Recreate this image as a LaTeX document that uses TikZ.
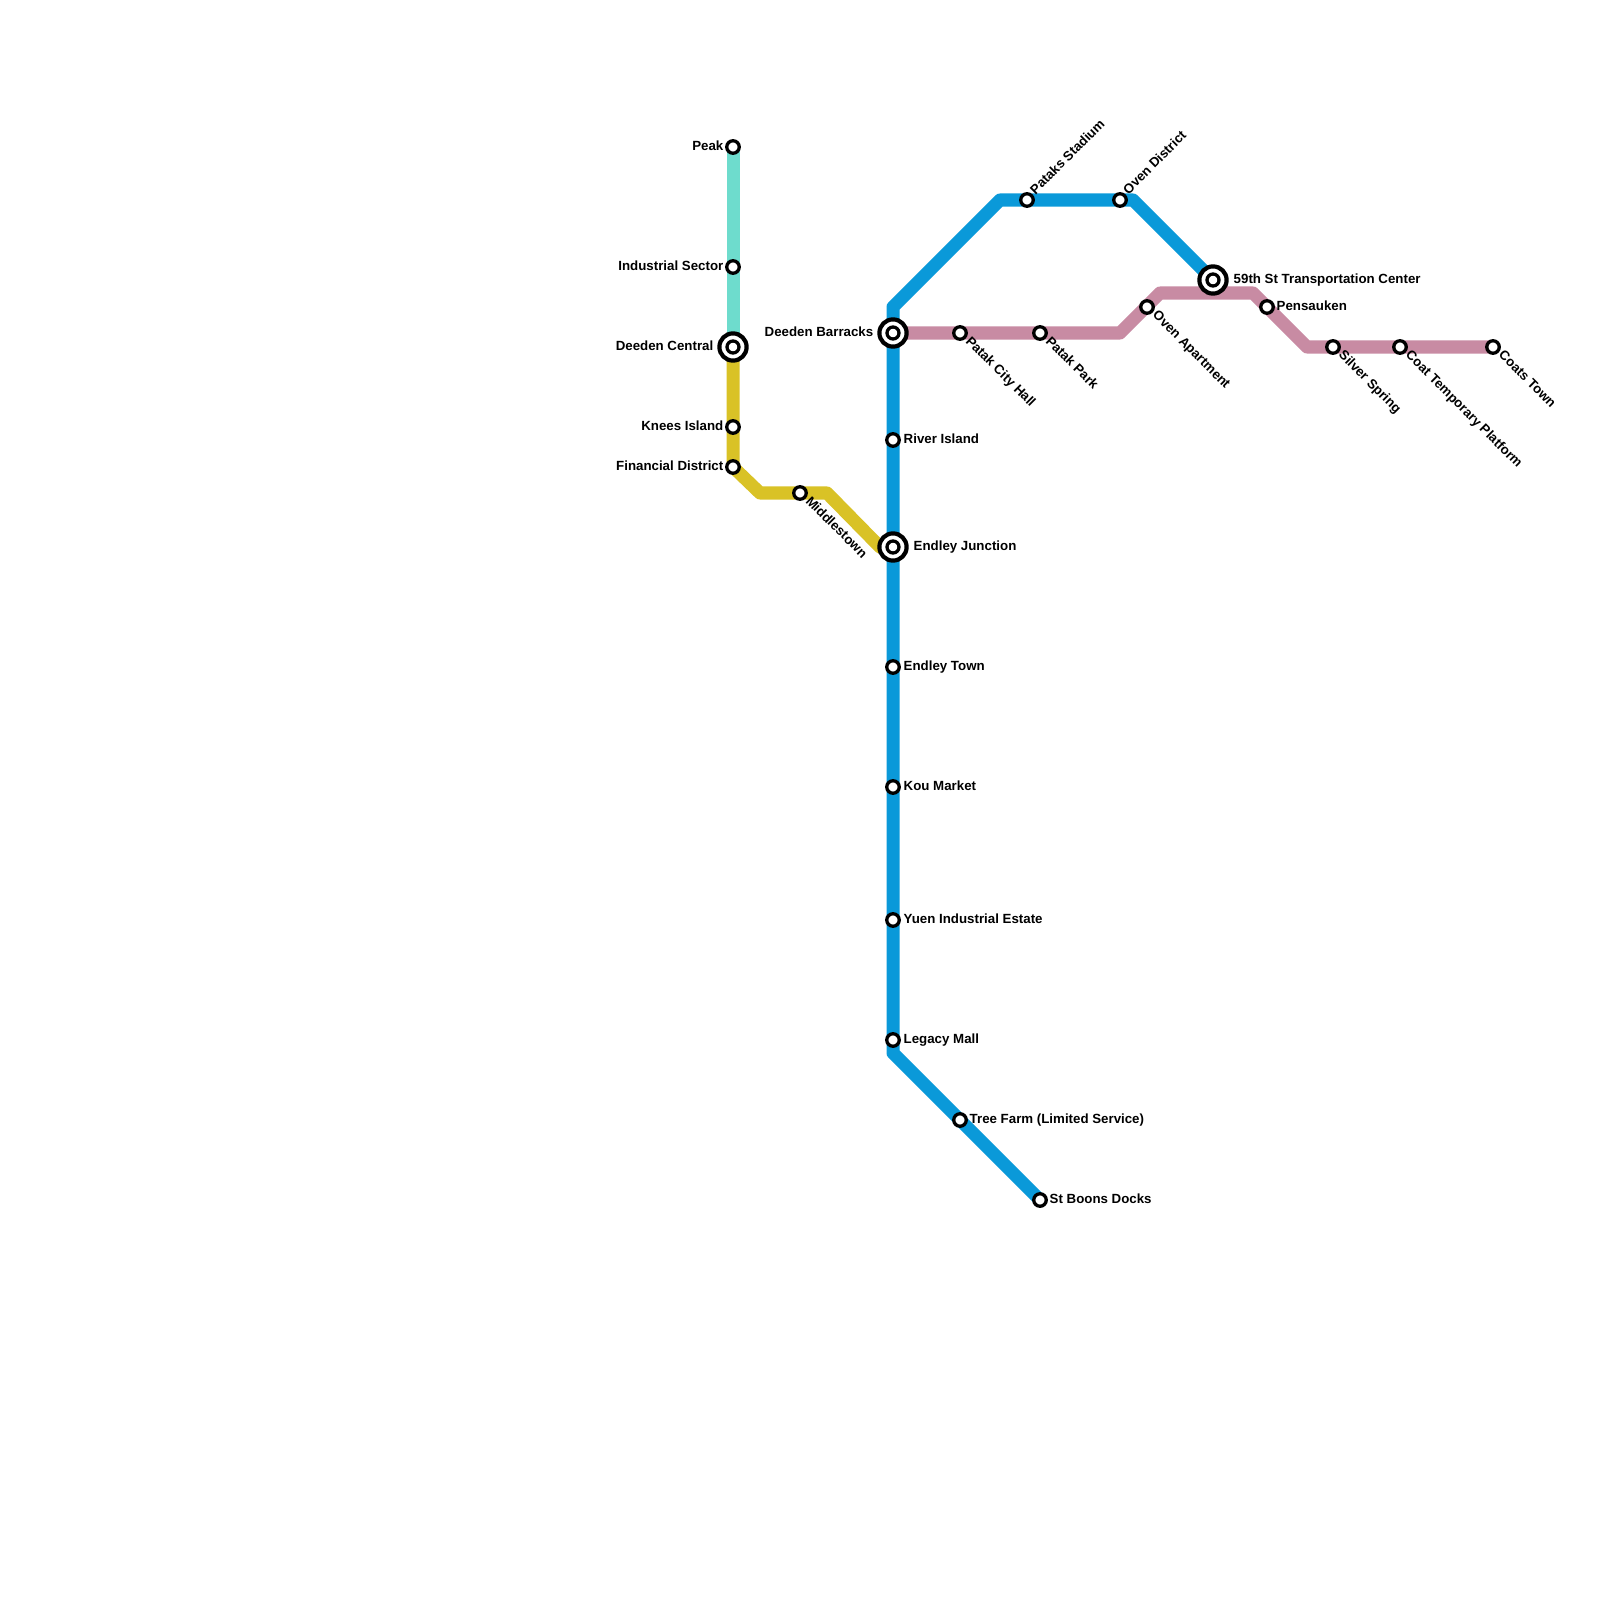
\documentclass[tikz,border=0pt]{standalone}
\usepackage{fontspec}
\setmainfont{Liberation Sans}
\usetikzlibrary{backgrounds}

\definecolor{tealline}{HTML}{6EDCCD}
\definecolor{goldline}{HTML}{D9C226}
\definecolor{blueline}{HTML}{0A99D9}
\definecolor{pinkline}{HTML}{C88BA3}

\begin{document}
\begin{tikzpicture}[
    x=0.01cm, y=-0.01cm,
    station/.style={circle, draw=black, fill=white, line width=0.33mm, inner sep=0pt, outer sep=0pt, minimum size=1.25mm},
    hub/.style={circle, draw=black, fill=white, line width=0.42mm, inner sep=0pt, outer sep=0pt, minimum size=2.72mm},
    hubcore/.style={circle, draw=black, fill=white, line width=0.33mm, inner sep=0pt, outer sep=0pt, minimum size=1.2mm},
    turn/.style={inner sep=0pt, minimum size=0pt},
    route/.style={line width=1.3mm, line join=round},
    lbl/.style={font=\fontsize{3.78}{4}\selectfont\bfseries, inner sep=0pt},
    lblr/.style={lbl, anchor=base west},
    lbll/.style={lbl, anchor=base east},
    lbldown/.style={lbl, anchor=base west, rotate=-45},
    lblup/.style={lbl, anchor=base west, rotate=45}
]

\useasboundingbox (0,0) rectangle (1600,1600);

% Left line stations
\node[station] (peak) at (733,147) {};
\node[station] (industrial) at (733,267) {};
\node[hub] (central) at (733,347) {};
\node[hubcore] (centralcore) at (733,347) {};
\node[station] (knees) at (733,427) {};
\node[station] (financial) at (733,467) {};
\node[station] (middlestown) at (800,493) {};

% Main line stations
\node[hub] (barracks) at (893,333) {};
\node[hubcore] (barrackscore) at (893,333) {};
\node[station] (river) at (893,440) {};
\node[hub] (junction) at (893,547) {};
\node[hubcore] (junctioncore) at (893,547) {};
\node[station] (endley) at (893,667) {};
\node[station] (kou) at (893,787) {};
\node[station] (yuen) at (893,920) {};
\node[station] (legacy) at (893,1040) {};
\node[station] (tree) at (960,1120) {};
\node[station] (boons) at (1040,1200) {};
\node[station] (stadium) at (1027,200) {};
\node[station] (ovendist) at (1120,200) {};
\node[hub] (fiftyninth) at (1213,280) {};
\node[hubcore] (fiftyninthcore) at (1213,280) {};

% East line stations
\node[station] (cityhall) at (960,333) {};
\node[station] (patakpark) at (1040,333) {};
\node[station] (ovenapt) at (1147,307) {};
\node[station] (pensauken) at (1267,307) {};
\node[station] (silver) at (1333,347) {};
\node[station] (coat) at (1400,347) {};
\node[station] (coats) at (1493,347) {};

% Turns
\node[turn] (g1) at (760,493) {};
\node[turn] (g2) at (827,493) {};
\node[turn] (g3) at (880,547) {};
\node[turn] (b1) at (893,307) {};
\node[turn] (b2) at (1000,200) {};
\node[turn] (b3) at (1133,200) {};
\node[turn] (b4) at (893,1053) {};
\node[turn] (p1) at (1120,333) {};
\node[turn] (p2) at (1160,293) {};
\node[turn] (p3) at (1253,293) {};
\node[turn] (p4) at (1307,347) {};

% Routes under the stations
\begin{scope}[on background layer]
\draw[route, tealline] (peak.center) -- (central.center);
\draw[route, goldline] (central.center) -- (financial.center) -- (g1.center) -- (g2.center) -- (g3.center) -- (junction.center);
\draw[route, pinkline] (barracks.center) -- (p1.center) -- (p2.center) -- (p3.center) -- (p4.center) -- (coats.center);
\draw[route, blueline] (boons.center) -- (b4.center) -- (b1.center) -- (b2.center) -- (b3.center) -- (fiftyninth.center);
\end{scope}

% Labels
\node[lbll] (peaklbl) at (724,150.5) {Peak};
\node[lbll] (industriallbl) at (724,270.5) {Industrial Sector};
\node[lbll] (centrallbl) at (714,350.5) {Deeden Central};
\node[lbll] (kneeslbl) at (724,430.5) {Knees Island};
\node[lbll] (financiallbl) at (724,470.5) {Financial District};
\node[lbll] (barrackslbl) at (874,337) {Deeden Barracks};

\node[lblr] (riverlbl) at (903,443.5) {River Island};
\node[lblr] (junctionlbl) at (913,550.5) {Endley Junction};
\node[lblr] (endleylbl) at (903,670.5) {Endley Town};
\node[lblr] (koulbl) at (903,790.5) {Kou Market};
\node[lblr] (yuenlbl) at (903,923.5) {Yuen Industrial Estate};
\node[lblr] (legacylbl) at (903,1043.5) {Legacy Mall};
\node[lblr] (treelbl) at (969,1123.5) {Tree Farm (Limited Service)};
\node[lblr] (boonslbl) at (1049,1203.5) {St Boons Docks};
\node[lblr] (fiftyninthlbl) at (1233,283.5) {59th St Transportation Center};
\node[lblr] (pensaukenlbl) at (1276,310.5) {Pensauken};

\node[lbldown] (middlestownlbl) at (804.5,501.5) {Middlestown};
\node[lbldown] (cityhalllbl) at (964.5,341.5) {Patak City Hall};
\node[lbldown] (patakparklbl) at (1044.5,341.5) {Patak Park};
\node[lbldown] (ovenaptlbl) at (1151.5,315.5) {Oven Apartment};
\node[lbldown] (silverlbl) at (1337.5,355.5) {Silver Spring};
\node[lbldown] (coatlbl) at (1404.5,355.5) {Coat Temporary Platform};
\node[lbldown] (coatslbl) at (1497.5,355.5) {Coats Town};

\node[lblup] (stadiumlbl) at (1035,195.5) {Pataks Stadium};
\node[lblup] (ovendistlbl) at (1128,195.5) {Oven District};

\end{tikzpicture}
\end{document}
